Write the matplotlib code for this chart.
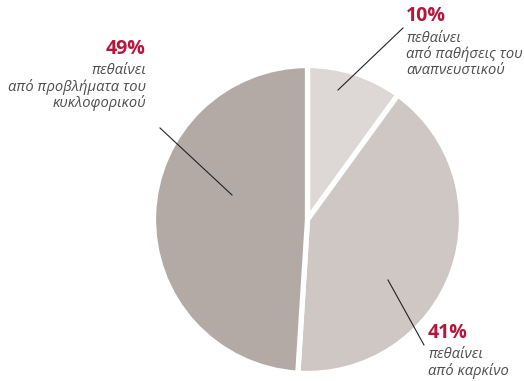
import matplotlib.pyplot as plt

# shares of deaths by cause
labels = ["αναπνευστικού", "καρκίνο", "κυκλοφορικού"]
shares = [10, 41, 49]
colors = ["#ddd8d5", "#cec7c4", "#b3aaa6"]

W, H = 524, 381
fig = plt.figure(figsize=(W / 100, H / 100), dpi=100)
ax = fig.add_axes([0, 0, 1, 1])
ax.set_aspect("equal")

cx, cy, r = 307.5, 219.5, 154
ax.pie(shares, colors=colors, startangle=90, counterclock=False,
       center=(cx, -cy), radius=r, frame=True,
       wedgeprops=dict(edgecolor="white", linewidth=3.8))
# pie draws in y-up coordinates, so pixel rows are negated
ax.set_xlim(0, W)
ax.set_ylim(-H, 0)
ax.axis("off")

red = "#b5173c"
grey = "#4d4d4d"
fam = ["Open Sans", "DejaVu Sans"]

def label(x, y, pct, lines, ha):
    ax.text(x, -y, pct, color=red, fontsize=14, fontweight="bold",
            family=fam, ha=ha, va="center")
    for i, ln in enumerate(lines):
        ax.text(x, -(y + 22 + 16 * i), ln, color=grey, fontsize=10.6,
                style="italic", family=fam, ha=ha, va="center")

label(146, 49, "49%", ["πεθαίνει", "από προβλήματα του", "κυκλοφορικού"], "right")
label(406, 16, "10%", ["πεθαίνει", "από παθήσεις του", "αναπνευστικού"], "left")
label(428, 333, "41%", ["πεθαίνει", "από καρκίνο"], "left")

# leader lines
ax.plot([160, 232], [-128, -195], color="#222222", lw=0.8)
ax.plot([338, 403], [-90, -28], color="#222222", lw=0.8)
ax.plot([388, 424], [-280, -345], color="#222222", lw=0.8)

fig.savefig("out.png", dpi=100)
